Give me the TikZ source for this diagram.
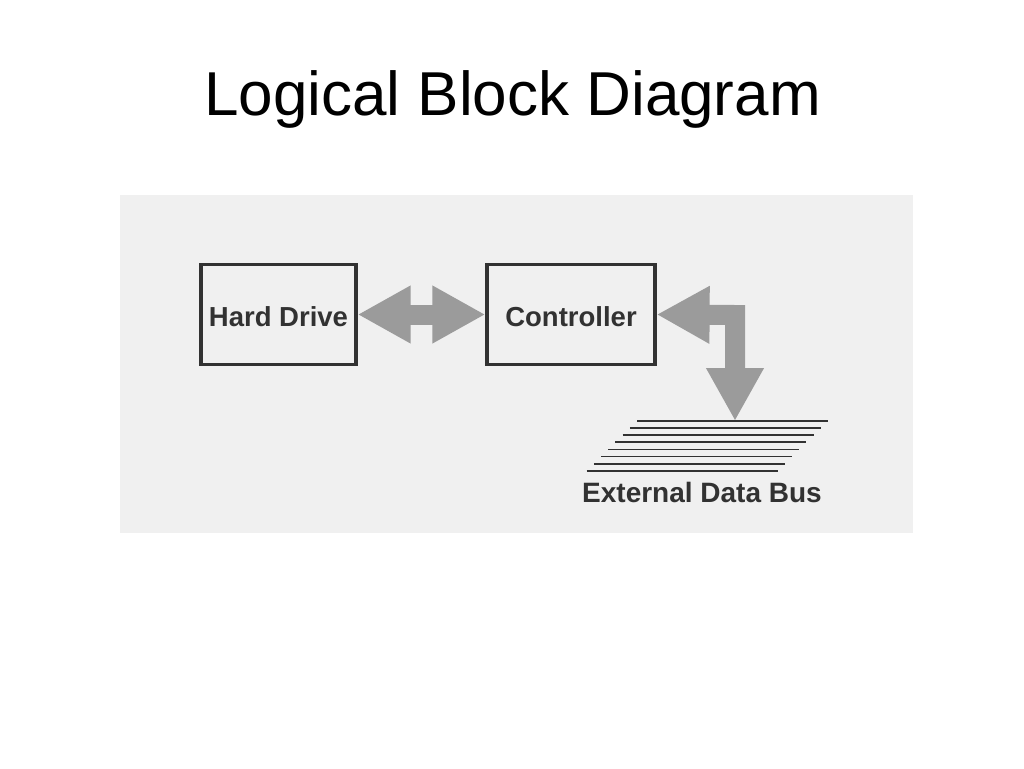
\documentclass[tikz,border=0pt]{standalone}
\usepackage{fontspec}
\setmainfont{Liberation Sans}
\usepackage{tikz}
\usetikzlibrary{arrows.meta}

\definecolor{tinta}{RGB}{50,50,50}
\definecolor{flecha}{RGB}{155,155,155}
\definecolor{fondo}{RGB}{240,240,240}

\begin{document}
\begin{tikzpicture}[x=1pt,y=-1pt,
    caja/.style={draw=tinta, line width=3.2pt, minimum height=100pt, inner sep=0pt, text height=24pt, text depth=0pt, text=tinta, font=\fontsize{27.5}{27.5}\selectfont\bfseries},
    gorda/.style={draw=flecha, line width=20pt, line join=miter,
      {Triangle[width=54pt,length=53pt,fill=flecha,color=flecha]}-{Triangle[width=54pt,length=53pt,fill=flecha,color=flecha]}}]
              \useasboundingbox (0,0) rectangle (1024,768);
              \fill[fondo] (120,195) rectangle (913,533);

              % Nodos
              \node[font=\fontsize{62}{62}\selectfont, anchor=base] (titulo) at (512.5,115) {Logical Block Diagram};
              \node[caja, minimum width=155pt] (hdd) at (278.5,314.5) {Hard Drive};
              \node[caja, minimum width=168pt] (ctrl) at (571,314.5) {Controller};
              \coordinate (esquina) at (735,315);
              \coordinate (bus) at (735,421);
              \node[text=tinta, font=\fontsize{28}{28}\selectfont\bfseries] (buslabel) at (702,492) {External Data Bus};

              % Bus
              \foreach \i in {0,...,7}
                \draw[tinta, line width=1.8pt] (637-7.2*\i,421+7.1*\i) -- (828-7.2*\i,421+7.1*\i);

              % Flechas
              \draw[gorda] (hdd) -- (ctrl);
              \draw[gorda] (ctrl.east) -- (esquina) -- (bus);
            \end{tikzpicture}
\end{document}
